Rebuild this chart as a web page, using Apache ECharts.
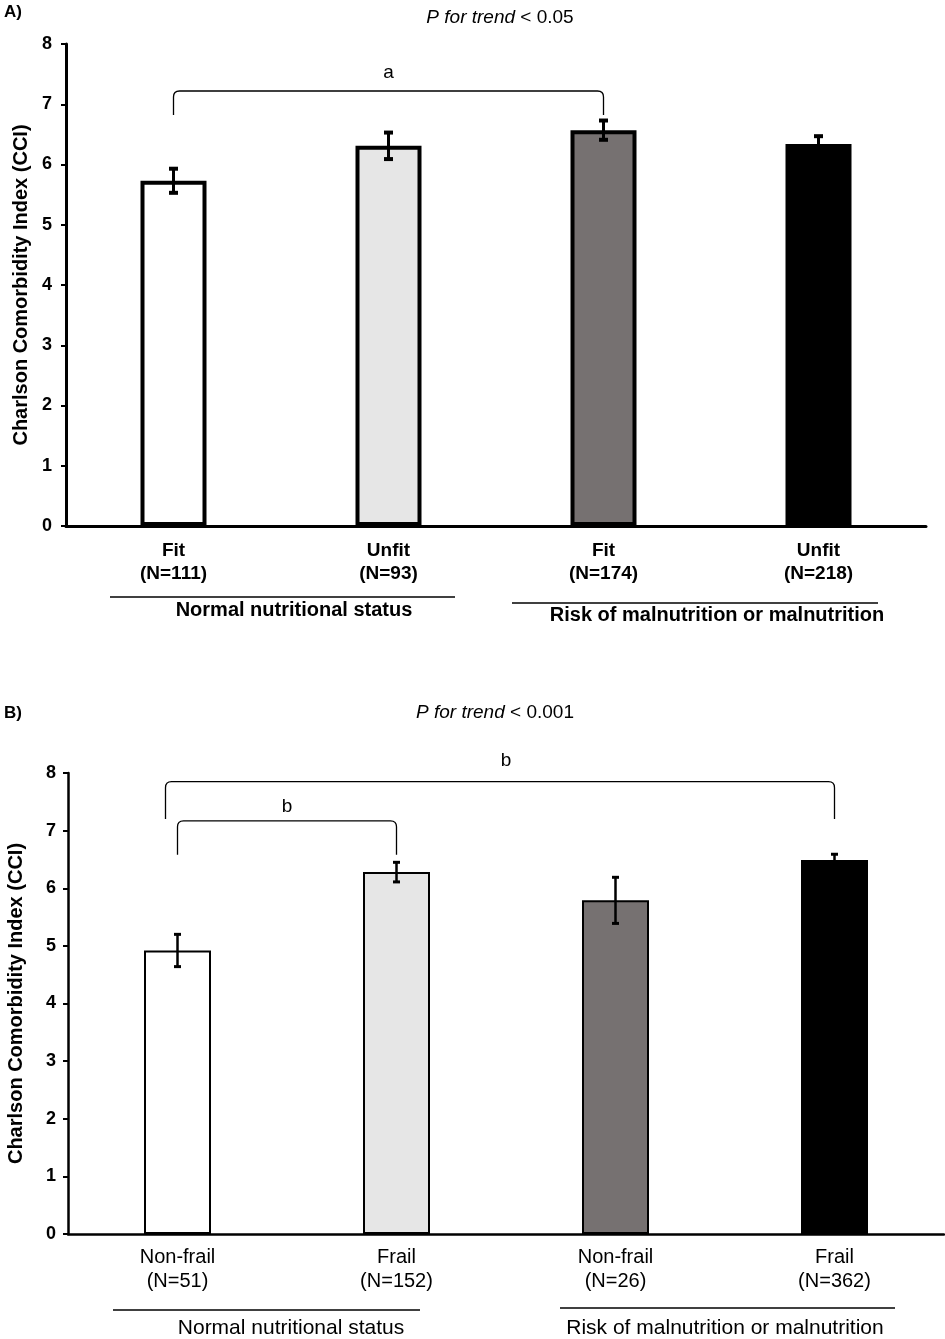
<!DOCTYPE html>
<html>
<head>
<meta charset="utf-8">
<script src="https://cdn.jsdelivr.net/npm/echarts@6/dist/echarts.min.js"></script>
<style>
  html, body { margin: 0; padding: 0; background: #fff; }
  #chart { width: 945px; height: 1339px; }
</style>
</head>
<body>
<div id="chart"></div>
<script>
// ---- data ----
var catsA = ['Fit\n(N=111)', 'Unfit\n(N=93)', 'Fit\n(N=174)', 'Unfit\n(N=218)'];
var meanA = [5.73, 6.31, 6.57, 6.34];
var errA = [0.20, 0.22, 0.16, 0.13];

var catsB = ['Non-frail\n(N=51)', 'Frail\n(N=152)', 'Non-frail\n(N=26)', 'Frail\n(N=362)'];
var meanB = [4.92, 6.28, 5.79, 6.49];
var errB = [0.28, 0.17, 0.40, 0.10];

var barColors = ['#ffffff', '#e6e6e6', '#767171', '#000000'];
var yTicks = [0, 8, 1];   // min, max, interval

// brackets: [fromIndex, toIndex, topValue, endValue, labelValue]
var bracketsA = [[0, 2, 7.22, 6.82, 7.52]];
var bracketLabelsA = ['a'];
var bracketsB = [[0, 3, 7.85, 7.20, 8.21], [0, 1, 7.17, 6.58, 7.41]];
var bracketLabelsB = ['b', 'b'];

var groupNames = ['Normal nutritional status', 'Risk of malnutrition or malnutrition'];

// ---- helpers ----
var sans = 'Liberation Sans, Arial, sans-serif';

function barData(vals) {
  return vals.map(function (v, i) {
    return { value: v, itemStyle: { color: barColors[i] } };
  });
}

function errData(vals, errs) {
  return vals.map(function (v, i) { return [i, v - errs[i], v + errs[i]]; });
}

function errRender(lw, capW, capH) {
  return function (params, api) {
    var lo = api.coord([api.value(0), api.value(1)]);
    var hi = api.coord([api.value(0), api.value(2)]);
    var x = lo[0];
    return {
      type: 'group',
      children: [
        { type: 'line', shape: { x1: x, y1: lo[1], x2: x, y2: hi[1] }, style: { stroke: '#000', lineWidth: lw } },
        { type: 'rect', shape: { x: x - capW / 2, y: hi[1] - capH / 2, width: capW, height: capH }, style: { fill: '#000' } },
        { type: 'rect', shape: { x: x - capW / 2, y: lo[1] - capH / 2, width: capW, height: capH }, style: { fill: '#000' } }
      ]
    };
  };
}

function bracketRender(labels) {
  return function (params, api) {
    var a = api.coord([api.value(0), api.value(2)]);
    var b = api.coord([api.value(1), api.value(2)]);
    var ea = api.coord([api.value(0), api.value(3)]);
    var lab = api.coord([api.value(0), api.value(4)]);
    var x1 = a[0] - (api.value(1) - api.value(0) > 2 ? 12 : 0);
    var x2 = b[0];
    var yt = a[1], ye = ea[1], r = 6;
    var d = 'M' + x1 + ' ' + ye + ' L' + x1 + ' ' + (yt + r) +
            ' Q' + x1 + ' ' + yt + ' ' + (x1 + r) + ' ' + yt +
            ' L' + (x2 - r) + ' ' + yt +
            ' Q' + x2 + ' ' + yt + ' ' + x2 + ' ' + (yt + r) +
            ' L' + x2 + ' ' + ye;
    return {
      type: 'group',
      children: [
        { type: 'path', shape: { pathData: d }, style: { stroke: '#000', fill: null, lineWidth: 1.3 } },
        { type: 'text', x: (a[0] + b[0]) / 2, y: lab[1],
          style: { text: labels[params.dataIndex], fill: '#000', font: '19px ' + sans, align: 'center', verticalAlign: 'middle' } }
      ]
    };
  };
}

function yAxisCfg(grid, lw, gap, margin) {
  return {
    type: 'value', gridIndex: grid, min: yTicks[0], max: yTicks[1], interval: yTicks[2],
    name: 'Charlson Comorbidity Index (CCI)', nameLocation: 'middle', nameGap: gap,
    nameTextStyle: { fontFamily: sans, fontWeight: 'bold', fontSize: 20, color: '#000' },
    axisLine: { show: true, lineStyle: { color: '#000', width: lw } },
    axisTick: { show: true, length: 5, lineStyle: { color: '#000', width: 2 } },
    axisLabel: { fontFamily: sans, fontWeight: 'bold', fontSize: 18, color: '#000', margin: margin },
    splitLine: { show: false }
  };
}

function titleText(x, y, rest) {
  return { type: 'text', x: x, y: y, style: { text: '{i|P for trend} ' + rest, font: '19px ' + sans, fill: '#000',
    align: 'center', verticalAlign: 'middle', rich: { i: { fontStyle: 'italic', fontSize: 19, fontFamily: sans } } } };
}

var chart = echarts.init(document.getElementById('chart'));

var option = {
  animation: false,
  backgroundColor: '#fff',
  grid: [
    { left: 66, top: 44, width: 860, height: 482, outerBoundsMode: 'none' },
    { left: 68, top: 773, width: 876, height: 461, outerBoundsMode: 'none' }
  ],
  xAxis: [
    { type: 'category', gridIndex: 0, data: catsA,
      axisLine: { lineStyle: { color: '#000', width: 3 } }, axisTick: { show: false },
      axisLabel: { fontFamily: sans, fontWeight: 'bold', fontSize: 19, color: '#000', lineHeight: 23, margin: 13 } },
    { type: 'category', gridIndex: 1, data: catsB,
      axisLine: { lineStyle: { color: '#000', width: 2.5 } }, axisTick: { show: false },
      axisLabel: { fontFamily: sans, fontSize: 20, color: '#000', lineHeight: 24, margin: 11 } }
  ],
  yAxis: [yAxisCfg(0, 3, 31, 14), yAxisCfg(1, 2.5, 42, 12)],
  series: [
    { type: 'bar', xAxisIndex: 0, yAxisIndex: 0, barWidth: 66, data: barData(meanA),
      itemStyle: { borderColor: '#000', borderWidth: 4 } },
    { type: 'custom', xAxisIndex: 0, yAxisIndex: 0, data: errData(meanA, errA), renderItem: errRender(3, 9, 4), z: 5 },
    { type: 'custom', xAxisIndex: 0, yAxisIndex: 0, data: bracketsA, renderItem: bracketRender(bracketLabelsA), z: 5 },
    { type: 'bar', xAxisIndex: 1, yAxisIndex: 1, barWidth: 67, data: barData(meanB),
      itemStyle: { borderColor: '#000', borderWidth: 2 } },
    { type: 'custom', xAxisIndex: 1, yAxisIndex: 1, data: errData(meanB, errB), renderItem: errRender(2.5, 7, 3), z: 5 },
    { type: 'custom', xAxisIndex: 1, yAxisIndex: 1, data: bracketsB, renderItem: bracketRender(bracketLabelsB), z: 5 }
  ],
  graphic: [
    { type: 'text', left: 4, top: 4, style: { text: 'A)', font: 'bold 17px ' + sans, fill: '#000' } },
    { type: 'text', left: 4, top: 705, style: { text: 'B)', font: 'bold 17px ' + sans, fill: '#000' } },
    titleText(500, 18, '< 0.05'),
    titleText(495, 713, '< 0.001'),
    // group lines and names, panel A
    { type: 'line', shape: { x1: 110, y1: 597, x2: 455, y2: 597 }, style: { stroke: '#000', lineWidth: 1.5 } },
    { type: 'text', x: 294, y: 610, style: { text: groupNames[0], font: 'bold 20px ' + sans, fill: '#000', align: 'center', verticalAlign: 'middle' } },
    { type: 'line', shape: { x1: 512, y1: 603, x2: 878, y2: 603 }, style: { stroke: '#000', lineWidth: 1.5 } },
    { type: 'text', x: 717, y: 615, style: { text: groupNames[1], font: 'bold 20px ' + sans, fill: '#000', align: 'center', verticalAlign: 'middle' } },
    // panel B
    { type: 'line', shape: { x1: 113, y1: 1310, x2: 420, y2: 1310 }, style: { stroke: '#000', lineWidth: 1.5 } },
    { type: 'text', x: 291, y: 1328, style: { text: groupNames[0], font: '21px ' + sans, fill: '#000', align: 'center', verticalAlign: 'middle' } },
    { type: 'line', shape: { x1: 560, y1: 1308, x2: 895, y2: 1308 }, style: { stroke: '#000', lineWidth: 1.5 } },
    { type: 'text', x: 725, y: 1328, style: { text: groupNames[1], font: '21px ' + sans, fill: '#000', align: 'center', verticalAlign: 'middle' } }
  ]
};

chart.setOption(option);
</script>
</body>
</html>
